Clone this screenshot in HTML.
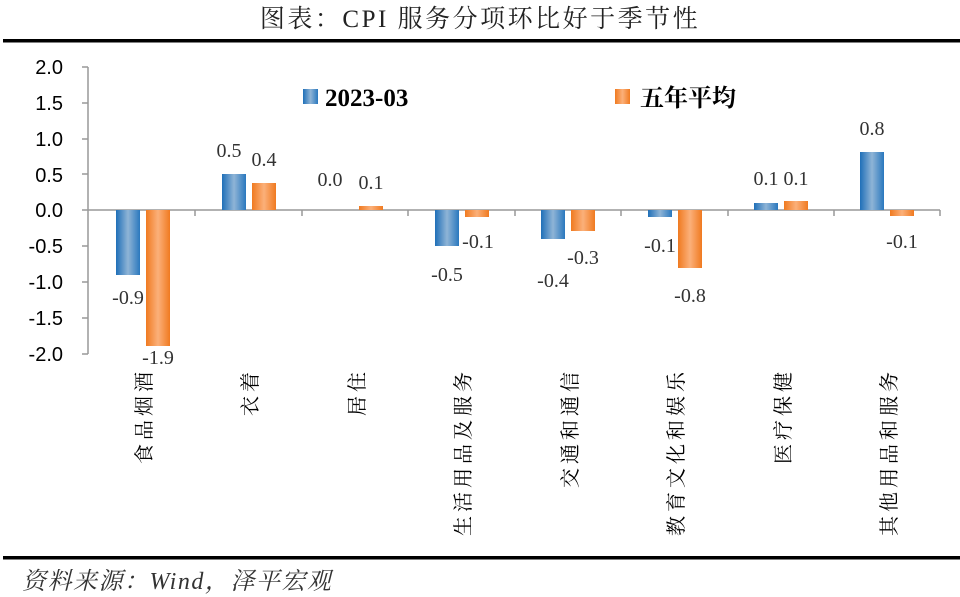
<!DOCTYPE html>
<html><head><meta charset="utf-8"><style>
body{margin:0;background:#fff;}
svg{display:block;}
</style></head><body>
<svg width="960" height="597" xmlns="http://www.w3.org/2000/svg">
<defs>
<linearGradient id="gb" x1="0" x2="1"><stop offset="0" stop-color="#1f6fb8"/><stop offset="0.5" stop-color="#8fb4d6"/><stop offset="1" stop-color="#2a78be"/></linearGradient>
<linearGradient id="go" x1="0" x2="1"><stop offset="0" stop-color="#f07a20"/><stop offset="0.5" stop-color="#fbb07a"/><stop offset="1" stop-color="#f07a20"/></linearGradient>
</defs>
<text x="480" y="27" text-anchor="middle" font-family="'Liberation Serif','Noto Serif CJK SC',serif" font-size="25" letter-spacing="2.5" fill="#222">图表：CPI 服务分项环比好于季节性</text>
<rect x="3" y="39" width="957" height="3.5" fill="#000"/>
<g font-family="'Liberation Sans',sans-serif" font-size="20" fill="#000" text-anchor="end">
<text x="63" y="74">2.0</text><text x="63" y="110">1.5</text><text x="63" y="146">1.0</text><text x="63" y="182">0.5</text><text x="63" y="217">0.0</text><text x="63" y="253">-0.5</text><text x="63" y="289">-1.0</text><text x="63" y="325">-1.5</text><text x="63" y="361">-2.0</text>
</g>
<g stroke="#999" stroke-width="1.5" fill="none">
<line x1="88" y1="67" x2="88" y2="354"/>
<line x1="82" y1="67" x2="88" y2="67"/><line x1="82" y1="103" x2="88" y2="103"/><line x1="82" y1="139" x2="88" y2="139"/><line x1="82" y1="174" x2="88" y2="174"/><line x1="82" y1="246" x2="88" y2="246"/><line x1="82" y1="282" x2="88" y2="282"/><line x1="82" y1="318" x2="88" y2="318"/><line x1="82" y1="354" x2="88" y2="354"/>
<line x1="82" y1="210" x2="940" y2="210"/>
<line x1="195" y1="210" x2="195" y2="216"/><line x1="302" y1="210" x2="302" y2="216"/><line x1="408" y1="210" x2="408" y2="216"/><line x1="515" y1="210" x2="515" y2="216"/><line x1="621" y1="210" x2="621" y2="216"/><line x1="728" y1="210" x2="728" y2="216"/><line x1="834" y1="210" x2="834" y2="216"/><line x1="940" y1="210" x2="940" y2="216"/>
</g>
<g>
<rect x="116" y="210" width="24" height="65" fill="url(#gb)"/><rect x="146" y="210" width="24" height="136" fill="url(#go)"/>
<rect x="222" y="174" width="24" height="36" fill="url(#gb)"/><rect x="252" y="183" width="24" height="27" fill="url(#go)"/>
<rect x="359" y="206" width="24" height="4" fill="url(#go)"/>
<rect x="435" y="210" width="24" height="36" fill="url(#gb)"/><rect x="465" y="210" width="24" height="7" fill="url(#go)"/>
<rect x="541" y="210" width="24" height="29" fill="url(#gb)"/><rect x="571" y="210" width="24" height="21" fill="url(#go)"/>
<rect x="648" y="210" width="24" height="7" fill="url(#gb)"/><rect x="678" y="210" width="24" height="58" fill="url(#go)"/>
<rect x="754" y="203" width="24" height="7" fill="url(#gb)"/><rect x="784" y="201" width="24" height="9" fill="url(#go)"/>
<rect x="860" y="152" width="24" height="58" fill="url(#gb)"/><rect x="890" y="210" width="24" height="6" fill="url(#go)"/>
</g>
<g font-family="'Liberation Serif',serif" font-size="20" fill="#333" text-anchor="middle">
<text x="128" y="304">-0.9</text><text x="158" y="364">-1.9</text>
<text x="229" y="157">0.5</text><text x="264" y="166">0.4</text>
<text x="330" y="186">0.0</text><text x="371" y="189">0.1</text>
<text x="447" y="281">-0.5</text><text x="478" y="248">-0.1</text>
<text x="553" y="287">-0.4</text><text x="583" y="264">-0.3</text>
<text x="660" y="252">-0.1</text><text x="690" y="302">-0.8</text>
<text x="766" y="185">0.1</text><text x="796" y="185">0.1</text>
<text x="872" y="135">0.8</text><text x="902" y="248">-0.1</text>
</g>
<rect x="303" y="89" width="15" height="15" fill="url(#gb)"/>
<text x="325" y="106" font-family="'Liberation Serif',serif" font-weight="bold" font-size="25" fill="#000">2023-03</text>
<rect x="615" y="89" width="15" height="15" fill="url(#go)"/>
<text x="640" y="106" font-family="'Liberation Serif','Noto Serif CJK SC',serif" font-weight="bold" font-size="24" fill="#000">五年平均</text>
<g font-family="'Noto Serif CJK SC',serif" font-size="20" fill="#000" text-anchor="end" letter-spacing="4">
<text transform="translate(151,368) rotate(-90)">食品烟酒</text>
<text transform="translate(257,368) rotate(-90)">衣着</text>
<text transform="translate(364,368) rotate(-90)">居住</text>
<text transform="translate(470,368) rotate(-90)">生活用品及服务</text>
<text transform="translate(577,368) rotate(-90)">交通和通信</text>
<text transform="translate(683,368) rotate(-90)">教育文化和娱乐</text>
<text transform="translate(790,368) rotate(-90)">医疗保健</text>
<text transform="translate(896,368) rotate(-90)">其他用品和服务</text>
</g>
<rect x="3" y="556" width="957" height="3.5" fill="#000"/>
<text x="22" y="589" font-family="'Liberation Serif','Noto Serif CJK SC',serif" font-style="italic" font-size="24" letter-spacing="1.5" fill="#333">资料来源：Wind，泽平宏观</text>
</svg>
</body></html>
